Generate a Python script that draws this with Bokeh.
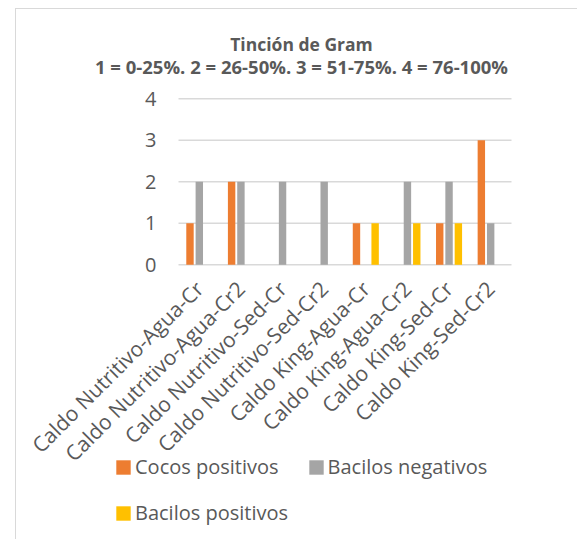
import math
from bokeh.plotting import figure
from bokeh.models import (ColumnDataSource, Range1d, Label, Legend,
                          LegendItem, FixedTicker)
from bokeh.transform import dodge
from bokeh.embed import file_html
from bokeh.resources import INLINE

categories = ["Caldo Nutritivo-Agua-Cr", "Caldo Nutritivo-Agua-Cr2",
              "Caldo Nutritivo-Sed-Cr", "Caldo Nutritivo-Sed-Cr2",
              "Caldo King-Agua-Cr", "Caldo King-Agua-Cr2",
              "Caldo King-Sed-Cr", "Caldo King-Sed-Cr2"]
cocos_positivos = [1, 2, 0, 0, 1, 0, 1, 3]
bacilos_negativos = [2, 2, 2, 2, 0, 2, 2, 1]
bacilos_positivos = [0, 0, 0, 0, 1, 1, 1, 0]
series_names = ["Cocos positivos", "Bacilos negativos", "Bacilos positivos"]
y_ticks = [0, 1, 2, 3, 4]
title_text = "Tinción de Gram"
subtitle_text = "1 = 0-25%. 2 = 26-50%. 3 = 51-75%. 4 = 76-100%"

FONT = "Open Sans"
TXT = "#595959"
GRID = "#D9D9D9"
colors = ["#ED7D31", "#A5A5A5", "#FFC000"]

n = len(categories)
positions = list(range(1, n + 1))          # category slots 1..n
src = ColumnDataSource(dict(pos=positions, c=cocos_positivos,
                            bn=bacilos_negativos, bp=bacilos_positivos))
grid_src = ColumnDataSource(dict(y=y_ticks, x0=[0.5] * len(y_ticks),
                                 x1=[n + 0.5] * len(y_ticks)))

# The frame covers the whole canvas; the category area (0.5 .. n+0.5) sits inside it.
x_range = Range1d(-3.392, 10.11)
y_range = Range1d(-6.643, 6.152)

p = figure(x_range=x_range, y_range=y_range, width=562, height=531,
           min_border=0, output_backend="svg", toolbar_location=None,
           background_fill_color="white", border_fill_color="white")
p.outline_line_color = None
p.styles = {"margin-left": "15px", "margin-top": "8px",
            "border-left": "1px solid #D9D9D9", "border-top": "1px solid #D9D9D9"}

# horizontal gridlines over the category area
p.segment(x0="x0", x1="x1", y0="y", y1="y", source=grid_src,
          line_color=GRID, line_width=1.5)

bw = 0.178
off = 0.224
r1 = p.vbar(x=dodge("pos", -off), top="c", width=bw, source=src,
            fill_color=colors[0], line_color=None)
r2 = p.vbar(x=dodge("pos", 0), top="bn", width=bw, source=src,
            fill_color=colors[1], line_color=None)
r3 = p.vbar(x=dodge("pos", off), top="bp", width=bw, source=src,
            fill_color=colors[2], line_color=None)

p.xgrid.visible = False
p.ygrid.visible = False

# axes drawn at fixed locations inside the frame
p.yaxis.fixed_location = 0.5
p.yaxis.ticker = FixedTicker(ticks=y_ticks)
p.yaxis.axis_line_color = None
p.yaxis.major_tick_line_color = None
p.yaxis.minor_tick_line_color = None
p.yaxis.major_tick_out = 0
p.yaxis.major_tick_in = 0
p.yaxis.major_label_text_font = FONT
p.yaxis.major_label_text_font_size = "20px"
p.yaxis.major_label_text_color = TXT
p.yaxis.major_label_standoff = 22

p.xaxis.fixed_location = 0
p.xaxis.ticker = FixedTicker(ticks=positions)
p.xaxis.major_label_overrides = {pos: cat for pos, cat in zip(positions, categories)}
p.xaxis.axis_line_color = None
p.xaxis.major_tick_line_color = None
p.xaxis.minor_tick_line_color = None
p.xaxis.major_tick_out = 0
p.xaxis.major_tick_in = 0
p.xaxis.major_label_orientation = math.pi / 4
p.xaxis.major_label_text_font = FONT
p.xaxis.major_label_text_font_size = "21px"
p.xaxis.major_label_text_color = TXT
p.xaxis.major_label_standoff = 20

# titles
p.add_layout(Label(x=3.455, y=5.32, text=title_text, text_font=FONT,
                   text_font_size="17.5px", text_font_style="bold", text_color=TXT,
                   text_align="center", text_baseline="middle"))
p.add_layout(Label(x=3.455, y=4.77, text=subtitle_text, text_font=FONT,
                   text_font_size="18.5px", text_font_style="bold", text_color=TXT,
                   text_align="center", text_baseline="middle"))

# legends
def mk_legend(items, loc):
    return Legend(items=items, location=loc, orientation="horizontal",
                  padding=0, margin=0, spacing=28, label_standoff=3,
                  glyph_width=18, glyph_height=18, label_height=18,
                  label_text_font=FONT, label_text_font_size="20px",
                  label_text_color=TXT, border_line_color=None,
                  background_fill_alpha=0)

p.add_layout(mk_legend([LegendItem(label=series_names[0], renderers=[r1]),
                        LegendItem(label=series_names[1], renderers=[r2])],
                       (98, 60)))
p.add_layout(mk_legend([LegendItem(label=series_names[2], renderers=[r3])],
                       (98, 14)))

open("out.html", "w").write(file_html(p, INLINE))
